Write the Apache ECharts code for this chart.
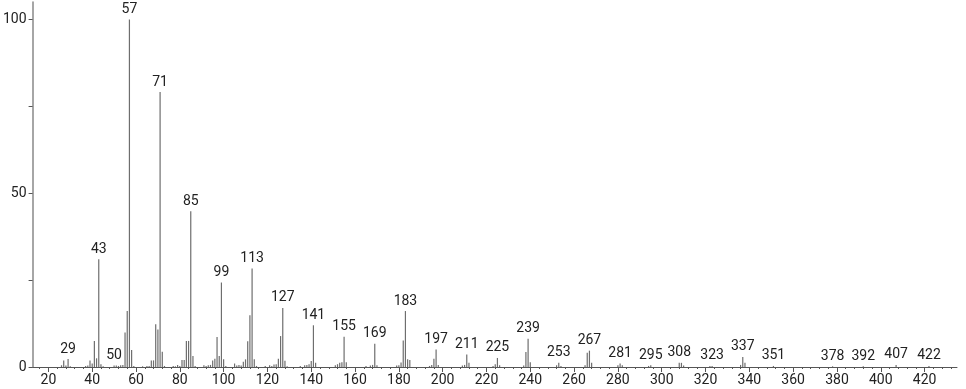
<!DOCTYPE html>
<html>
<head>
<meta charset="utf-8">
<script src="https://cdn.jsdelivr.net/npm/echarts@6/dist/echarts.min.js"></script>
<style>
html,body{margin:0;padding:0;background:#fff;}
#chart{width:966px;height:389px;}
</style>
</head>
<body>
<div id="chart"></div>
<script>
// m/z values and relative intensities
var mz = [26,27,28,29,30,37,38,39,40,41,42,43,44,45,50,51,52,53,54,55,56,57,58,59,
  63,65,66,67,68,69,70,71,72,73,77,78,79,80,81,82,83,84,85,86,87,
  91,92,93,94,95,96,97,98,99,100,101,105,106,107,108,109,110,111,112,113,114,115,
  119,121,122,123,124,125,126,127,128,129,135,137,138,139,140,141,142,
  151,152,153,154,155,156,165,167,168,169,170,179,180,181,182,183,184,185,
  194,195,196,197,198,209,210,211,212,223,224,225,226,237,238,239,240,
  252,253,254,265,266,267,268,280,281,282,294,295,308,309,310,322,323,
  336,337,338,351,378,392,407,422];
var intensity = [0.5,1.9,0.4,2.3,0.2,0.3,0.4,1.9,1.0,7.5,2.5,31.0,0.8,0.2,0.4,0.4,0.3,0.5,0.6,9.9,16.1,100,4.9,0.3,
  0.2,0.3,0.3,1.9,1.9,12.3,10.8,79.1,4.4,0.3,0.3,0.2,0.6,0.3,2.0,2.0,7.5,7.5,44.8,3.2,0.3,
  0.5,0.3,0.5,0.6,1.9,2.4,8.6,3.2,24.3,2.2,0.3,1.0,0.4,0.6,0.4,1.5,2.2,7.4,14.9,28.3,2.2,0.3,
  0.3,0.5,0.3,0.7,0.8,2.4,8.9,17.0,1.8,0.2,0.3,0.5,0.6,0.8,1.7,12.0,1.2,
  0.5,0.8,1.2,1.4,8.7,1.4,0.3,0.4,0.6,6.7,0.5,0.4,0.5,1.3,7.6,16.1,2.2,2.0,
  0.3,0.6,2.4,5.0,0.6,0.4,0.6,3.6,1.2,0.3,0.8,2.6,0.5,0.4,4.3,8.1,1.4,
  0.5,1.2,0.3,0.5,4.1,4.7,1.2,0.5,1.0,0.5,0.3,0.5,1.2,1.2,0.4,0.3,0.3,
  0.6,2.9,1.2,0.3,0.2,0.2,0.6,0.3];
var labelledPeaks = [29,43,50,57,71,85,99,113,127,141,155,169,183,197,211,225,239,253,267,281,295,308,323,337,351,378,392,407,422];
var xMajorTicks = [20,40,60,80,100,120,140,160,180,200,220,240,260,280,300,320,340,360,380,400,420];
var xMinorTicks = [];
for (var t = 16; t <= 432; t += 4) xMinorTicks.push(t);
var yTicks = [0,25,50,75,100];
var yTickLabels = [0,50,100];

var FONT = '"Roboto", "Liberation Sans", sans-serif';

var data = mz.map(function(m, i){
  var item = { value: [m, intensity[i]] };
  if (labelledPeaks.indexOf(m) >= 0) {
    item.label = { show: true };
  }
  return item;
});

var chart = echarts.init(document.getElementById('chart'), null, {renderer:'canvas'});
chart.setOption({
  animation: false,
  backgroundColor: '#ffffff',
  grid: { left: 29, right: 9, top: 2, bottom: 22, containLabel: false },
  xAxis: [{
    type: 'value', min: 12.8, max: 434.8,
    axisLine: { show: true, lineStyle: { color: '#555', width: 1 } },
    axisTick: { show: true, customValues: xMajorTicks, length: 5, lineStyle: { color: '#555' } },
    axisLabel: { show: true, customValues: xMajorTicks, margin: 6, color: '#222', fontSize: 14, fontFamily: FONT },
    splitLine: { show: false }
  }, {
    type: 'value', min: 12.8, max: 434.8, position: 'bottom',
    axisLine: { show: false },
    axisTick: { show: true, customValues: xMinorTicks, length: 2, lineStyle: { color: '#555' } },
    axisLabel: { show: false },
    splitLine: { show: false }
  }],
  yAxis: {
    type: 'value', min: 0, max: 105,
    axisLine: { show: true, lineStyle: { color: '#888', width: 1.5 } },
    axisTick: { show: true, customValues: yTicks, length: 4, lineStyle: { color: '#555' } },
    axisLabel: { show: true, customValues: yTickLabels, margin: 6, color: '#222', fontSize: 14, fontFamily: FONT },
    splitLine: { show: false }
  },
  series: [{
    type: 'bar',
    xAxisIndex: 0,
    barWidth: 1.2,
    itemStyle: { color: '#6e6e6e' },
    label: {
      show: false, position: 'top', distance: 3, color: '#222', fontSize: 14, fontFamily: FONT,
      formatter: function(p){ return String(p.value[0]); }
    },
    data: data
  }]
});
</script>
</body>
</html>
